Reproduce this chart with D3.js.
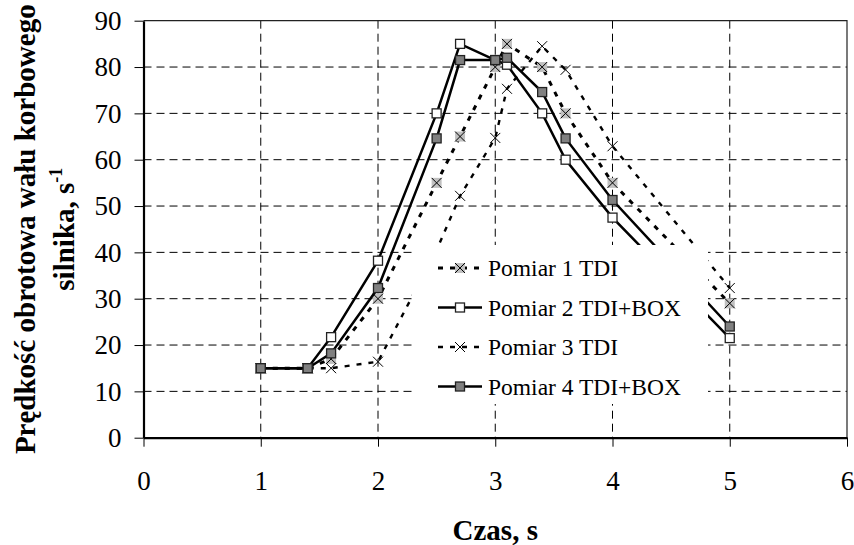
<!DOCTYPE html>
<html>
<head>
<meta charset="utf-8">
<script src="https://cdn.jsdelivr.net/npm/d3@7"></script>
<style>
  body { margin: 0; background: #fff; }
  svg { display: block; }
</style>
</head>
<body>
<svg id="chart" width="854" height="545"></svg>
<script>
// data
const czas = [1, 1.4, 1.6, 2, 2.5, 2.7, 3, 3.1, 3.4, 3.6, 4, 5];
const pomiar1 = [15, 15, 17, 30, 55, 65, 80, 85, 80, 70, 55, 29];
const pomiar2 = [15, 15, 21.7, 38.2, 70, 85, 81.5, 80.5, 70, 60, 47.5, 21.5];
const pomiar3 = [15, 15, 15, 16.4, 40.5, 52.2, 64.7, 75.3, 84.5, 79.4, 62.9, 32.3];
const pomiar4 = [15, 15, 18.2, 32.3, 64.6, 81.5, 81.5, 82, 74.6, 64.6, 51.3, 24];
const seriesNames = ['Pomiar 1 TDI', 'Pomiar 2 TDI+BOX', 'Pomiar 3 TDI', 'Pomiar 4 TDI+BOX'];
const xTicks = [0, 1, 2, 3, 4, 5, 6];
const yTicks = [0, 10, 20, 30, 40, 50, 60, 70, 80, 90];

const FONT = '"Liberation Serif", "Times New Roman", serif';

const series = [
  { name: seriesNames[0], values: pomiar1, dash: '5,7', width: 3, marker: 'grayx' },
  { name: seriesNames[1], values: pomiar2, dash: null, width: 2.5, marker: 'white' },
  { name: seriesNames[2], values: pomiar3, dash: '5,7', width: 2.4, marker: 'x' },
  { name: seriesNames[3], values: pomiar4, dash: null, width: 2.5, marker: 'gray' }
];

const svg = d3.select('#chart');
const x = d3.scaleLinear().domain([0, 6]).range([143.5, 847]);
const y = d3.scaleLinear().domain([0, 90]).range([437.7, 20.7]);

// gridlines
const grid = svg.append('g').attr('stroke', '#000').attr('stroke-width', 1).attr('stroke-dasharray', '8,5');
grid.selectAll('line.v')
  .data(xTicks.filter(d => d > 0 && d < 6))
  .enter().append('line')
  .attr('x1', d => x(d)).attr('x2', d => x(d))
  .attr('y1', y(90)).attr('y2', y(0));
grid.selectAll('line.h')
  .data(yTicks.filter(d => d > 0 && d < 90))
  .enter().append('line')
  .attr('x1', x(0)).attr('x2', x(6))
  .attr('y1', d => y(d)).attr('y2', d => y(d));

// top and right frame
svg.append('path')
  .attr('d', `M${x(0)},${y(90)}H${x(6)}V${y(0)}`)
  .attr('fill', 'none').attr('stroke', '#222').attr('stroke-width', 1.2);

// axes
const yAxis = svg.append('g')
  .attr('transform', `translate(${x(0)},0)`)
  .call(d3.axisLeft(y).tickValues(yTicks).tickFormat(d3.format('d')).tickSize(9).tickPadding(13).tickSizeOuter(0));
const xAxis = svg.append('g')
  .attr('transform', `translate(0,${y(0)})`)
  .call(d3.axisBottom(x).tickValues(xTicks).tickFormat(d3.format('d')).tickSize(9).tickPadding(24).tickSizeOuter(0));
[yAxis, xAxis].forEach(a => {
  a.select('.domain').attr('stroke', '#000').attr('stroke-width', 2.2);
  a.selectAll('.tick line').attr('stroke', '#000').attr('stroke-width', 1);
  a.selectAll('.tick text')
    .style('font-family', FONT)
    .style('font-size', '27px').attr('fill', '#000');
});

// markers
function drawMarker(g, kind, cx, cy) {
  const s = 5;
  if (kind === 'grayx') {
    g.append('rect').attr('x', cx - s).attr('y', cy - s).attr('width', 2 * s).attr('height', 2 * s)
      .attr('fill', '#c0c0c0');
  }
  if (kind === 'white' || kind === 'gray') {
    g.append('rect').attr('x', cx - s + 0.5).attr('y', cy - s + 0.5).attr('width', 2 * s - 1).attr('height', 2 * s - 1)
      .attr('fill', kind === 'white' ? '#fff' : '#808080')
      .attr('stroke', '#222').attr('stroke-width', 1.3);
  }
  if (kind === 'grayx' || kind === 'x') {
    g.append('path')
      .attr('d', `M${cx - s},${cy - s}L${cx + s},${cy + s}M${cx - s},${cy + s}L${cx + s},${cy - s}`)
      .attr('stroke', '#000').attr('stroke-width', 1).attr('fill', 'none');
  }
}

const line = d3.line().x(d => x(d[0])).y(d => y(d[1]));

series.forEach(s => {
  const pts = czas.map((c, i) => [c, s.values[i]]);
  const g = svg.append('g');
  g.append('path')
    .attr('d', line(pts))
    .attr('fill', 'none')
    .attr('stroke', '#000')
    .attr('stroke-width', s.width)
    .attr('stroke-dasharray', s.dash);
  pts.forEach(p => drawMarker(g, s.marker, x(p[0]), y(p[1])));
});

// legend
const legend = svg.append('g');
legend.append('rect')
  .attr('x', 412).attr('y', 245).attr('width', 296).attr('height', 159)
  .attr('fill', '#fff');
series.forEach((s, i) => {
  const ly = 268 + i * 39.5;
  const g = legend.append('g');
  g.append('line')
    .attr('x1', 438).attr('x2', 482).attr('y1', ly).attr('y2', ly)
    .attr('stroke', '#000').attr('stroke-width', s.width)
    .attr('stroke-dasharray', s.dash);
  drawMarker(g, s.marker, 460, ly);
  g.append('text')
    .attr('x', 488).attr('y', ly + 8)
    .style('font-family', FONT)
    .style('font-size', '23.5px')
    .text(s.name);
});

// axis titles
svg.append('text')
  .attr('x', x(3)).attr('y', 540)
  .attr('text-anchor', 'middle')
  .style('font-family', FONT)
  .style('font-size', '29px').style('font-weight', 'bold')
  .text('Czas, s');

const yTitle = svg.append('g')
  .attr('transform', `translate(0,${(y(0) + y(90)) / 2}) rotate(-90)`);
yTitle.append('text')
  .attr('x', 0).attr('y', 35)
  .attr('text-anchor', 'middle')
  .style('font-family', FONT)
  .style('font-size', '29px').style('font-weight', 'bold')
  .text('Prędkość obrotowa wału korbowego');
const t2 = yTitle.append('text')
  .attr('x', 0).attr('y', 74)
  .attr('text-anchor', 'middle')
  .style('font-family', FONT)
  .style('font-size', '29px').style('font-weight', 'bold');
t2.append('tspan').text('silnika, s');
t2.append('tspan').attr('dy', -12).style('font-size', '18px').text('-1');
</script>
</body>
</html>
